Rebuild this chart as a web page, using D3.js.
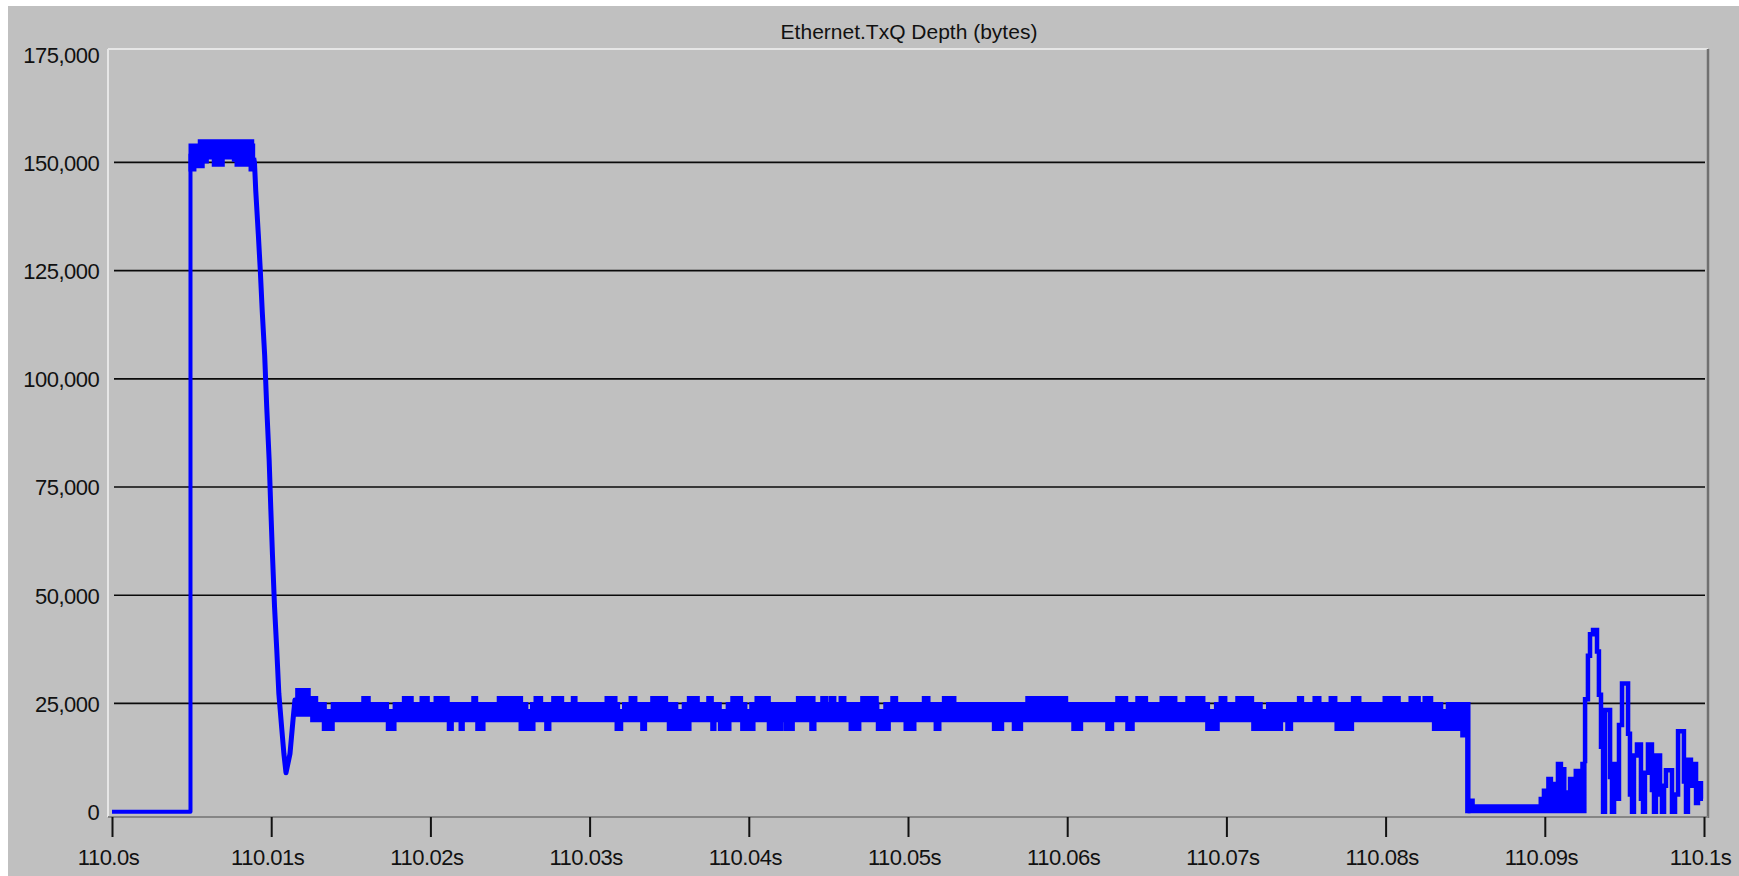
<!DOCTYPE html>
<html><head><meta charset="utf-8">
<script src="https://cdn.jsdelivr.net/npm/d3@7"></script>
<style>
html,body{margin:0;padding:0;background:#fff;}
svg{display:block;}
text{font-family:"Liberation Sans",Arial,sans-serif;fill:#111;}
</style></head><body>
<svg id="chart" width="1739" height="876"></svg>
<script>
// ---- DATA (time in ms after 110.0 s, values in bytes) ----
const chartTitle = "Ethernet.TxQ Depth (bytes)";
const xTickValues = [0,10,20,30,40,50,60,70,80,90,100];
const xTickLabels = ["110.0s","110.01s","110.02s","110.03s","110.04s","110.05s","110.06s","110.07s","110.08s","110.09s","110.1s"];
const yTickValues = [0,25000,50000,75000,100000,125000,150000,175000];

// single-line parts
const leadT = [0, 4.93, 4.93];
const leadV = [0, 0, 152000];
const declineT = [8.90, 8.95, 9.03, 9.19, 9.31, 9.44, 9.59, 9.72, 9.87, 9.97, 10.08, 10.21, 10.35, 10.48, 10.66, 10.80, 10.93, 11.18, 11.37, 11.49, 11.60];
const declineV = [151000, 149900, 143400, 133400, 125400, 115400, 105400, 93400, 81400, 70500, 59300, 47300, 37400, 27300, 19300, 13300, 9000, 13400, 21200, 25800, 25000];
// burst (step values: value holds until next time)
const burstT = [92.53, 92.53, 92.71, 92.84, 93.03, 93.28, 93.40, 93.53, 93.66, 93.78, 94.10, 94.22, 94.35, 94.54, 94.66, 94.85, 95.23, 95.35, 95.48, 95.60, 95.79, 96.04, 96.17, 96.29, 96.48, 96.73, 96.86, 96.98, 97.24, 97.36, 97.49, 97.61, 97.99, 98.18, 98.37, 98.74, 98.87, 98.99, 99.18, 99.31, 99.50, 99.62, 99.81, 99.94];
const burstV = [11200, 26000, 36000, 41000, 42000, 37000, 27000, 15000, 0, 23500, 8000, 0, 11000, 3000, 20000, 29600, 18000, 4000, 0, 13000, 15500, 3000, 0, 9000, 15500, 5000, 0, 13000, 4000, 0, 6000, 9600, 0, 4000, 18600, 7000, 0, 12000, 6000, 11000, 2000, 6600, 3000, 3000];

// envelope parts (step functions: value holds until next time; last entry = end)
const plateauHiT = [4.90, 5.48, 8.84, 8.90];
const plateauHiV = [154000, 155000, 154000, 154000];
const plateauLoT = [4.90, 5.21, 5.73, 5.99, 6.36, 6.99, 7.62, 7.79, 8.67, 8.90];
const plateauLoV = [148200, 149000, 150100, 151000, 149300, 151000, 150500, 149300, 148200, 148200];

const bandHiT = [11.60, 12.39, 12.86, 13.40, 13.83, 15.75, 16.16, 17.31, 17.72, 18.30, 18.86, 19.41, 19.87, 20.29, 21.12, 22.66, 22.91, 24.26, 25.73, 26.06, 26.35, 26.57, 26.99, 27.68, 28.31, 28.91, 29.15, 31.03, 31.66, 31.82, 32.13, 32.54, 32.91, 33.90, 34.84, 35.48, 35.88, 36.20, 36.83, 37.42, 37.71, 38.21, 38.64, 38.93, 39.55, 39.82, 40.12, 40.45, 41.29, 43.05, 44.10, 44.58, 44.89, 45.10, 45.41, 45.73, 46.04, 47.09, 48.07, 48.11, 48.54, 48.98, 49.29, 50.96, 51.32, 52.22, 52.95, 57.46, 59.97, 63.11, 63.74, 64.37, 64.99, 65.89, 66.83, 67.51, 68.59, 68.88, 69.31, 69.60, 69.97, 70.65, 71.65, 72.19, 72.58, 74.52, 74.79, 75.50, 75.88, 76.51, 76.88, 77.91, 78.39, 79.90, 80.86, 81.53, 82.12, 82.41, 82.90, 83.53, 83.87, 85.24];
const bandHiV = [28200, 26400, 25000, 23400, 25000, 26400, 25000, 23400, 25000, 26400, 25000, 26400, 25000, 26400, 25000, 26400, 25000, 26400, 25000, 23400, 25000, 26400, 25000, 26400, 25000, 26400, 25000, 26400, 25000, 23400, 25000, 26400, 25000, 26400, 25000, 23400, 25000, 26400, 25000, 26400, 25000, 23400, 25000, 26400, 25000, 23400, 25000, 26400, 25000, 26400, 25000, 26400, 25000, 26400, 25000, 26400, 25000, 26400, 25000, 23400, 25000, 26400, 25000, 26400, 25000, 26400, 25000, 26400, 25000, 26400, 25000, 26400, 25000, 26400, 25000, 26400, 25000, 23400, 25000, 26400, 25000, 26400, 25000, 23400, 25000, 26400, 25000, 26400, 25000, 26400, 25000, 26400, 25000, 26400, 25000, 26400, 25000, 26400, 25000, 23400, 25000, 25000];
const bandLoT = [11.60, 12.54, 13.27, 13.90, 17.29, 17.78, 21.12, 21.38, 21.86, 22.07, 22.91, 23.37, 25.63, 26.51, 27.24, 27.51, 31.66, 32.02, 33.27, 33.52, 34.94, 36.31, 37.67, 37.88, 38.15, 38.82, 39.55, 40.33, 41.22, 42.07, 42.27, 42.80, 43.89, 44.16, 46.36, 46.98, 48.07, 48.83, 49.81, 50.44, 51.70, 52.01, 55.36, 55.95, 56.61, 57.14, 60.35, 60.91, 62.48, 62.86, 63.74, 64.15, 68.76, 69.49, 71.65, 73.47, 73.79, 74.10, 76.88, 77.93, 83.00, 84.78, 85.09, 85.24];
const bandLoV = [22300, 21000, 19000, 21000, 19000, 21000, 19000, 21000, 19000, 21000, 19000, 21000, 19000, 21000, 19000, 21000, 19000, 21000, 19000, 21000, 19000, 21000, 19000, 21000, 19000, 21000, 19000, 21000, 19000, 21000, 19000, 21000, 19000, 21000, 19000, 21000, 19000, 21000, 19000, 21000, 19000, 21000, 19000, 21000, 19000, 21000, 19000, 21000, 19000, 21000, 19000, 21000, 19000, 21000, 19000, 21000, 19000, 21000, 19000, 21000, 19000, 17500, 0, 0];

const tailHiT = [85.24, 85.51, 89.70, 89.90, 90.18, 90.43, 90.64, 90.78, 91.06, 91.27, 91.54, 91.90, 92.32, 92.53];
const tailHiV = [2700, 1400, 3100, 5000, 7700, 6600, 4600, 11200, 10000, 4600, 7700, 9600, 11200, 11200];
const tailLoT = [85.24, 92.53];
const tailLoV = [0, 0];

// ---- DRAWING ----
const W = 1739, H = 876;
const BLUE = "#0000ff";
const svg = d3.select("#chart");
svg.append("rect").attr("x", 8).attr("y", 6).attr("width", W - 8).attr("height", H - 6).attr("fill", "#c0c0c0");

const frame = {left: 108, top: 49, right: 1708, bottom: 817};
const x = d3.scaleLinear().domain([0, 100]).range([112, 1704]);
const y = d3.scaleLinear().domain([0, 175000]).range([811.7, 54.1]);

// title
svg.append("text").attr("x", (frame.left + frame.right) / 2 + 1).attr("y", 38.5)
  .attr("text-anchor", "middle").style("font-size", "21px").text(chartTitle);

// frame (3D sunken look)
svg.append("line").attr("x1", frame.left).attr("x2", frame.right).attr("y1", frame.top).attr("y2", frame.top)
  .attr("stroke", "#e6e6e6").attr("stroke-width", 2);
svg.append("line").attr("x1", frame.left).attr("x2", frame.left).attr("y1", frame.top).attr("y2", frame.bottom)
  .attr("stroke", "#e6e6e6").attr("stroke-width", 2);
svg.append("line").attr("x1", frame.right).attr("x2", frame.right).attr("y1", frame.top).attr("y2", frame.bottom + 1)
  .attr("stroke", "#707070").attr("stroke-width", 2.5);
svg.append("line").attr("x1", frame.left).attr("x2", frame.right).attr("y1", frame.bottom).attr("y2", frame.bottom)
  .attr("stroke", "#858585").attr("stroke-width", 2);

// gridlines
svg.append("g").selectAll("line").data(yTickValues.filter(v => v > 0 && v < 175000)).join("line")
  .attr("x1", x(0) + 2).attr("x2", x(100) + 1)
  .attr("y1", d => y(d)).attr("y2", d => y(d))
  .attr("stroke", "#0a0a0a").attr("stroke-width", 1.7);

// y axis labels
const yAxis = d3.axisLeft(y).tickValues(yTickValues).tickFormat(d3.format(",")).tickSize(0).tickPadding(8.7);
const gy = svg.append("g").attr("transform", `translate(${frame.left},0)`).call(yAxis);
gy.select(".domain").remove();
gy.selectAll("text").attr("dy", "0.36em").style("font-size", "22px").style("letter-spacing", "-0.5px")
  .attr("fill", "#111").style("font-family", '"Liberation Sans",Arial,sans-serif');

// x axis
const xAxis = d3.axisBottom(x).tickValues(xTickValues).tickFormat((d, i) => xTickLabels[i]).tickSize(20).tickPadding(12.4);
const gx = svg.append("g").attr("transform", `translate(0,${frame.bottom})`).call(xAxis);
gx.select(".domain").remove();
gx.selectAll(".tick line").attr("stroke", "#111").attr("stroke-width", 2);
gx.selectAll("text").attr("dx", -4).style("font-size", "22px").style("letter-spacing", "-0.5px")
  .attr("fill", "#111").style("font-family", '"Liberation Sans",Arial,sans-serif');

// envelopes
function buildEnvelope(hiT, hiV, loT, loV) {
  const times = Array.from(new Set([...hiT, ...loT])).sort((a, b) => a - b);
  const stepVal = (T, V, t) => V[Math.max(0, d3.bisectRight(T, t) - 1)];
  return times.map(t => ({t: t, hi: stepVal(hiT, hiV, t), lo: stepVal(loT, loV, t)}));
}
const envelopes = [
  buildEnvelope(plateauHiT, plateauHiV, plateauLoT, plateauLoV),
  buildEnvelope(bandHiT, bandHiV, bandLoT, bandLoV),
  buildEnvelope(tailHiT, tailHiV, tailLoT, tailLoV)
];
const area = d3.area().curve(d3.curveStepAfter)
  .x(d => x(d.t)).y0(d => y(d.lo)).y1(d => y(d.hi));
svg.append("g").selectAll("path").data(envelopes).join("path")
  .attr("d", area).attr("fill", BLUE).attr("stroke", BLUE).attr("stroke-width", 3).attr("stroke-linejoin", "miter");

// lines
const line = d3.line().x(d => x(d[0])).y(d => y(d[1]));
svg.append("path").datum(leadT.map((t, i) => [t, leadV[i]]))
  .attr("d", line).attr("fill", "none").attr("stroke", BLUE).attr("stroke-width", 4).attr("stroke-linejoin", "round");
svg.append("path").datum(declineT.map((t, i) => [t, declineV[i]]))
  .attr("d", line).attr("fill", "none").attr("stroke", BLUE).attr("stroke-width", 5).attr("stroke-linejoin", "round");
const stepLine = d3.line().curve(d3.curveStepAfter).x(d => x(d[0])).y(d => y(d[1]));
svg.append("path").datum(burstT.map((t, i) => [t, burstV[i]]))
  .attr("d", stepLine).attr("fill", "none").attr("stroke", BLUE).attr("stroke-width", 4.5).attr("stroke-linejoin", "miter");
</script>
</body></html>
